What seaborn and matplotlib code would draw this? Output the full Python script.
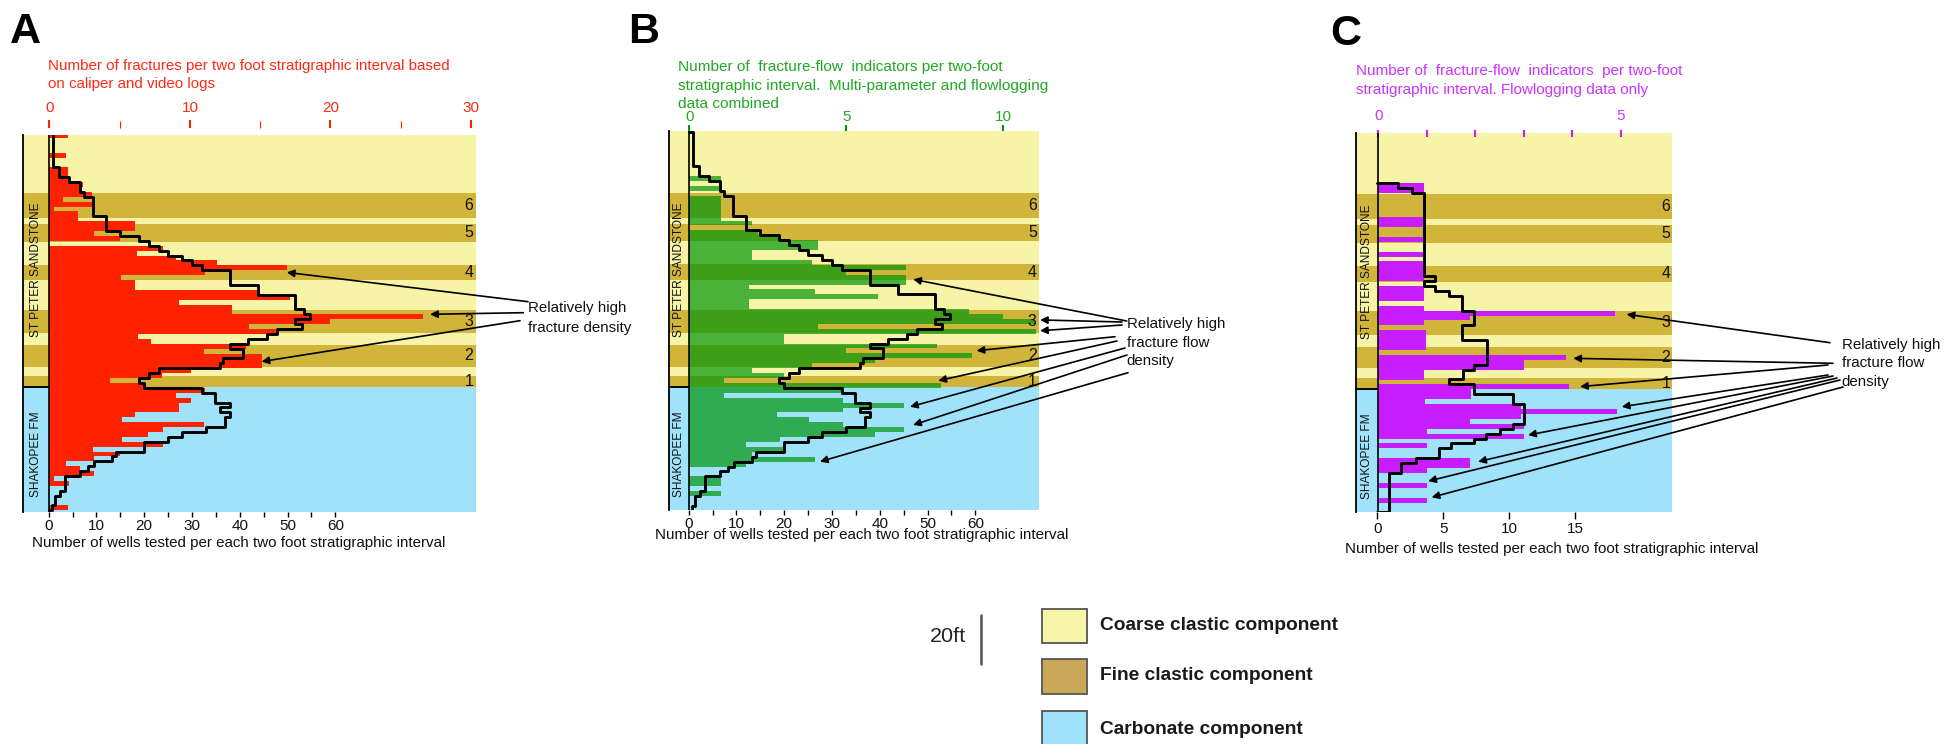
import numpy as np
import pandas as pd
import matplotlib
matplotlib.use("Agg")
import matplotlib.pyplot as plt
from matplotlib.patches import Rectangle
from matplotlib.lines import Line2D
from matplotlib import font_manager
import seaborn as sns

sns.set_theme(style="white")
_avail = {f.name for f in font_manager.fontManager.ttflist}
TXT = "Liberation Sans Narrow" if "Liberation Sans Narrow" in _avail else "Liberation Sans"
NUM = "Liberation Sans"
plt.rcParams["font.family"] = [TXT, "DejaVu Sans"]

W, H, DPI = 1957, 744, 100

# ------------------------------------------------------------------ data
interval_ft = 2
n_intervals = 77
depth_top_ft = np.arange(n_intervals) * interval_ft          # top of each 2-ft interval
section_base_ft = n_intervals * interval_ft

fractures_A = [1.3, 0, 0, 0, 1.2, 0, 0, 1.3, 1.3, 1.3,
               2.4, 2.2, 3.0, 1.0, 3.0, 0.3, 2.0, 2.0, 6.1, 6.1,
               3.2, 5.0, 0, 8.1, 6.2, 9.0, 11.9, 16.9, 11.1, 5.1,
               6.1, 6.1, 15.0, 17.1, 9.2, 13.0, 13.0, 26.6, 20.0, 14.2,
               16.2, 6.3, 7.2, 14.0, 11.0, 15.1, 15.1, 15.1, 10.1, 8.0,
               4.3, 6.8, 11.1, 9.0, 10.1, 9.2, 9.2, 6.1, 5.2, 11.0,
               8.1, 7.0, 5.2, 8.1, 3.1, 5.0, 3.2, 1.2, 2.2, 3.2,
               0.3, 1.4, 0, 0, 0, 0, 1.3]

flow_indicators_B = [0, 0, 0, 0, 0, 0, 0, 0, 0, 1,
                     0, 1, 0, 1, 1, 1, 1, 1, 2, 0,
                     2.2, 2.9, 4.1, 4.1, 2.0, 2.0, 3.9, 6.9, 5.0, 6.9,
                     6.9, 1.9, 4.0, 6.0, 1.9, 1.9, 8.9, 10.0, 11.0, 4.1,
                     11.05, 3.0, 3.0, 7.9, 5.0, 9.0, 5.9, 3.9, 2.0, 3.0,
                     1.1, 8.0, 4.9, 1.1, 4.9, 6.85, 4.9, 2.8, 3.8, 4.9,
                     6.85, 5.9, 2.9, 1.8, 3.0, 2.0, 4.0, 1.8, 0, 0,
                     1.0, 1.0, 0, 1.0, 0, 0, 0]

flow_indicators_C = [0, 0, 0, 0, 0, 0, 0, 0, 0, 0,
                     0.95, 0.95, 0, 0, 0, 0, 0, 0.95, 0.95, 0,
                     0, 0.95, 0, 0, 0.95, 0, 0.95, 0.95, 0.95, 0.95,
                     0, 0.95, 0.95, 0.95, 0, 0.95, 4.88, 1.9, 0.95, 0,
                     0.98, 0.98, 0.98, 0.98, 0, 3.87, 3.0, 3.0, 0.95, 0.95,
                     0, 3.94, 1.91, 1.91, 0.97, 2.95, 4.93, 2.95, 1.9, 3.0,
                     1.0, 3.0, 0, 1.0, 0, 0, 1.9, 1.9, 1.0, 0,
                     0, 1.0, 0, 0, 1.0, 0, 0]

wells_tested_AB = [1, 1, 1, 1, 1, 1, 1, 2.2, 2.2, 4.3,
                   6.6, 6.6, 7.3, 9.2, 9.2, 9.2, 9.2, 12, 12, 12,
                   14.9, 19, 21, 23, 25, 28, 30, 32, 38, 38,
                   38, 43.9, 43.9, 51.6, 51.6, 51.6, 53.5, 54.8, 51.6, 53,
                   47.7, 45.6, 41.8, 38, 40.6, 40.6, 36.5, 35.9, 23, 21,
                   19, 20, 32, 34.8, 34.8, 38, 35.9, 38, 36.9, 36.9,
                   33, 28, 25, 20, 20, 14, 13.2, 9.4, 8.3, 6.6,
                   3.4, 3.4, 3.4, 2.4, 1.3, 1.3, 0.6]

wells_tested_C = [np.nan] * 10 + [1.6, 2.6] + [3.5] * 17 + [4.4, 3.5, 4.4, 5.4] + \
                 [6.4] * 3 + [7.3] * 3 + [6.4] * 3 + [8.3] * 5 + [7.3, 6.5, 6.5, 5.4, 7.3, 7.3,
                 10.3, 10.3, 11.1, 11.1, 11.1, 11.1, 10.3, 9.3, 8.2, 7.3, 5.6, 4.7, 4.7, 2.9,
                 1.8, 1.8] + [0.9] * 8

fine_top_ft = [24.6, 37.2, 53.8, 72.2, 86.6, 99.2]
fine_base_ft = [34.8, 44.4, 60.2, 81.8, 95.4, 103.8]
fine_labels = ["6", "5", "4", "3", "2", "1"]
carbonate_top_ft = 103.8
formation_names = ["ST PETER SANDSTONE", "SHAKOPEE FM"]
formation_label_ft = [56, 131]
legend_labels = ["Coarse clastic component", "Fine clastic component", "Carbonate component"]

# ------------------------------------------------------------------ style
C_COARSE = "#F7F3A7"
C_FINE = "#D1B43A"
C_CARB = "#A0E2FA"
LEG_COLORS = ["#F7F5AA", "#C9A958", "#A0E2FA"]

fig = plt.figure(figsize=(W / DPI, H / DPI), dpi=DPI)
fig.patch.set_facecolor("white")
R = fig.canvas.get_renderer()


def fx(x):
    return x / W


def fy(y):
    return 1 - y / H


def fit(arts, target, ref=0, dim="w"):
    for _ in range(3):
        bb = arts[ref].get_window_extent(R)
        cur = bb.width if dim == "w" else bb.height
        k = target / cur
        for a in arts:
            a.set_fontsize(a.get_fontsize() * k)


def text_lines(lines, x, baselines, color, size=11, **kw):
    return [fig.text(fx(x), fy(b), s, color=color, fontsize=size, ha="left",
                     va="baseline", **kw) for s, b in zip(lines, baselines)]


def step_frame(wells):
    w = np.asarray(wells, float)
    s = int(np.flatnonzero(~np.isnan(w))[0])
    xs = [0.0] + list(w[s:]) + [w[-1], 0.0]
    ys = [depth_top_ft[s]] + list(depth_top_ft[s:]) + [section_base_ft, section_base_ft]
    return pd.DataFrame({"wells": xs, "depth": ys})


panels = [
    dict(name="A", box=(22.7, 135, 476, 512), g0=133.0, ppb=4.9,
         ztop=49.4, stop=14.05, zbot=48.7, sbot=4.777,
         vals=fractures_A, wells=wells_tested_AB, color="#FF2200", alpha=1.0, tcol="#FF2A14",
         major=[0, 10, 20, 30], mlabels=["0", "10", "20", "30"], minor=[5, 15, 25],
         top_off=5, top_len=8, top_pad=4.0, top_dir="out",
         bticks=list(range(0, 65, 5)), blabels=[str(v) if v % 10 == 0 else "" for v in range(0, 65, 5)],
         blen=5, bpad=1.5),
    dict(name="B", box=(668.5, 131, 1039, 510), g0=132.0, ppb=4.92,
         ztop=689.3, stop=31.4, zbot=688.7, sbot=4.777,
         vals=flow_indicators_B, wells=wells_tested_AB, color=(0.0, 0.59, 0.04), alpha=0.7,
         tcol="#22A822",
         major=[0, 5, 10], mlabels=["0", "5", "10"], minor=[],
         top_off=0, top_len=6, top_pad=1.0, top_dir="out",
         bticks=list(range(0, 65, 5)), blabels=[str(v) if v % 10 == 0 else "" for v in range(0, 65, 5)],
         blen=5, bpad=1.5),
    dict(name="C", box=(1355.7, 133.3, 1672.3, 512.3), g0=133.5, ppb=4.92,
         ztop=1378.3, stop=48.5, zbot=1377.3, sbot=13.2,
         vals=flow_indicators_C, wells=wells_tested_C, color="#C81EFF", alpha=1.0, tcol="#CC33FF",
         major=[0, 1, 2, 3, 4, 5], mlabels=["0", "", "", "", "", "5"], minor=[],
         top_off=0, top_len=7, top_pad=5.0, top_dir="inout",
         bticks=[0, 5, 10, 15], blabels=["0", "5", "10", "15"],
         blen=7, bpad=2.0),
]

axes = {}
for p in panels:
    l, t, r, b = p["box"]
    ax = fig.add_axes([fx(l), fy(b), (r - l) / W, (b - t) / H])
    ax2 = ax.twiny()
    ax.set_facecolor(C_COARSE)
    for top_, base_ in zip(fine_top_ft, fine_base_ft):
        ax.axhspan(top_, base_, color=C_FINE, lw=0, zorder=0.5)
    ax.axhspan(carbonate_top_ft, section_base_ft + 5, color=C_CARB, lw=0, zorder=0.5)

    df = pd.DataFrame({"depth": depth_top_ft + interval_ft / 2, "count": p["vals"]})
    sns.barplot(data=df, x="count", y="depth", orient="y", native_scale=True, width=1,
                color=p["color"], saturation=1, linewidth=0, errorbar=None,
                alpha=p["alpha"], ax=ax, zorder=1)

    xl_top = ((l - p["ztop"]) / p["stop"], (r - p["ztop"]) / p["stop"])
    ax.set_xlim(*xl_top)
    ax.axvline(0, color="black", lw=1.2, zorder=3)
    ax.hlines(carbonate_top_ft, xl_top[0], 0, color="black", lw=1.4, zorder=3)
    for lab, yy in zip(formation_names, formation_label_ft):
        t_ = ax.text(xl_top[0] / 2, yy, lab, rotation=90, ha="center", va="center",
                     color="#111111", fontsize=11, zorder=4)
        p.setdefault("strip_txt", []).append(t_)
    for lab, a_, b_ in zip(fine_labels, fine_top_ft, fine_base_ft):
        ax.text(0.994, (a_ + b_) / 2, lab, transform=ax.get_yaxis_transform(), ha="right",
                va="center", fontsize=11.5, family=NUM, color="#111111", zorder=4)

    # step line of wells tested (drawn on the twin so it sits above the bars)
    sf = step_frame(p["wells"])
    sns.lineplot(data=sf, x="wells", y="depth", sort=False, estimator=None,
                 drawstyle="steps-pre", color="black", lw=2.1, ax=ax2, zorder=5)
    ax2.set_xlim((l - p["zbot"]) / p["sbot"], (r - p["zbot"]) / p["sbot"])

    # top axis (counts per interval) on ax
    ax.xaxis.set_ticks_position("top")
    ax.set_xticks(p["major"])
    ax.set_xticklabels(p["mlabels"])
    if p["minor"]:
        ax.set_xticks(p["minor"], minor=True)
    ax.tick_params(axis="x", which="major", direction=p["top_dir"], length=p["top_len"] * 0.72,
                   width=1.5, color=p["color"], labelcolor=p["tcol"], labelsize=11,
                   pad=p["top_pad"], top=True, labeltop=True, bottom=False, labelbottom=False,
                   labelfontfamily=NUM)
    ax.tick_params(axis="x", which="minor", direction="out", length=p["top_len"] * 0.6,
                   width=0.8, color=p["color"], top=True, bottom=False)
    ax.spines["top"].set_position(("outward", p["top_off"]))
    for s in ["top", "right", "bottom"]:
        ax.spines[s].set_visible(False)
    ax.spines["left"].set_visible(True)
    ax.spines["left"].set_color("black")
    ax.spines["left"].set_linewidth(1.3)
    ax.set_yticks([])
    ax.set_xlabel("")
    ax.set_ylabel("")

    # bottom axis (wells tested) on ax2
    ax2.xaxis.set_ticks_position("bottom")
    ax2.set_xticks(p["bticks"])
    ax2.set_xticklabels(p["blabels"])
    ax2.tick_params(axis="x", direction="out", length=p["blen"] * 0.72, width=1.0,
                    color="black", labelcolor="#111111", labelsize=11, pad=p["bpad"],
                    bottom=True, labelbottom=True, top=False, labeltop=False,
                    labelfontfamily=NUM)
    for s in ax2.spines.values():
        s.set_visible(False)
    ax2.set_xlabel("")
    ax2.set_ylabel("")
    ax2.set_yticks([])
    ax.set_ylim((b - p["g0"]) / p["ppb"] * interval_ft, (t - p["g0"]) / p["ppb"] * interval_ft)
    axes[p["name"]] = (ax, ax2)

# strip labels sized to reference length
for p in panels:
    fit(p["strip_txt"][:1], 135, dim="h")
    p["strip_txt"][1].set_fontsize(p["strip_txt"][0].get_fontsize())

# panel letters
for letter, x, b in [("A", 10, 43), ("B", 628, 43), ("C", 1330, 45)]:
    fig.text(fx(x), fy(b), letter, fontsize=31, weight="bold", family=NUM,
             color="black", ha="left", va="baseline")

# axis titles
tA = text_lines(["Number of fractures per two foot stratigraphic interval based",
                 "on caliper and video logs"], 48.3, [70, 88.3], "#FF2A14")
fit(tA, 403)
tB = text_lines(["Number of  fracture-flow  indicators per two-foot",
                 "stratigraphic interval.  Multi-parameter and flowlogging",
                 "data combined"], 678.3, [71, 90, 108.3], "#22A822")
fit(tB, 368, ref=1)
tC = text_lines(["Number of  fracture-flow  indicators  per two-foot",
                 "stratigraphic interval. Flowlogging data only"], 1356, [75.3, 94.3], "#CC33FF")
fit(tC, 327)

xlab = "Number of wells tested per each two foot stratigraphic interval"
bl = [text_lines([xlab], x, [bb], "#111111")[0] for x, bb in [(32.3, 546.7), (655, 539.3), (1345, 553.3)]]
fit(bl, 416)

# annotations
aA = text_lines(["Relatively high", "fracture density"], 528.3, [312.3, 331.7], "#111111")
fit(aA, 104, ref=1)
sz = aA[0].get_fontsize()
text_lines(["Relatively high", "fracture flow", "density"], 1126.7, [327.7, 346.7, 365], "#111111", size=sz)
text_lines(["Relatively high", "fracture flow", "density"], 1841.7, [348.7, 366.7, 386], "#111111", size=sz)

arrows = {
    "A": [((16.9, 56.9), (528, 301.7)), ((27.1, 74.0), (523.3, 312.7)), ((15.1, 93.3), (520, 320.7))],
    "B": [((7.13, 59.9), (1126.7, 321)), ((11.17, 76.4), (1122, 322)), ((11.17, 80.8), (1122, 325)),
          ((9.15, 88.9), (1115, 336.7)), ((7.93, 101.1), (1117, 341)), ((7.03, 111.7), (1125, 348)),
          ((7.13, 119.1), (1127, 355)), ((4.16, 134.0), (1128, 372.7))],
    "C": [((5.12, 73.5), (1830, 342.7)), ((4.02, 91.4), (1833, 363.3)), ((4.16, 102.9), (1828, 365)),
          ((5.02, 111.1), (1828, 375)), ((3.09, 122.6), (1833, 376)), ((2.06, 133.4), (1837, 378)),
          ((1.03, 141.3), (1840, 380)), ((1.10, 147.9), (1843, 387))],
}
for name, lst in arrows.items():
    ax, ax2 = axes[name]
    for head, tail in lst:
        ax2.annotate("", xy=head, xycoords=ax.transData,
                     xytext=(fx(tail[0]), fy(tail[1])), textcoords="figure fraction",
                     arrowprops=dict(arrowstyle="-|>", color="black", lw=1.2,
                                     mutation_scale=11, shrinkA=0, shrinkB=0),
                     annotation_clip=False, zorder=10)

# legend
box_l, box_w = 1041.7, 45
for (top_, bot_), col in zip([(609, 643.3), (659, 694), (711, 746)], LEG_COLORS):
    fig.add_artist(Rectangle((fx(box_l), fy(bot_)), box_w / W, (bot_ - top_) / H,
                             transform=fig.transFigure, facecolor=col,
                             edgecolor="#555555", lw=1.3))
lg = [fig.text(fx(1100), fy(yc), s, fontsize=12, weight="bold", family=NUM, color="#1a1a1a",
               ha="left", va="center") for s, yc in zip(legend_labels, [626, 675, 730])]
fit(lg, 237)

# 20 ft scale bar
bar_len_px = 20 / interval_ft * 4.9
fig.add_artist(Line2D([fx(981), fx(981)], [fy(615), fy(615 + bar_len_px)],
                      transform=fig.transFigure, color="#555555", lw=1.8))
t20 = text_lines(["20ft"], 930, [641.7], "#222222")
fit(t20, 36)

fig.savefig("out.png", dpi=DPI, facecolor="white")
